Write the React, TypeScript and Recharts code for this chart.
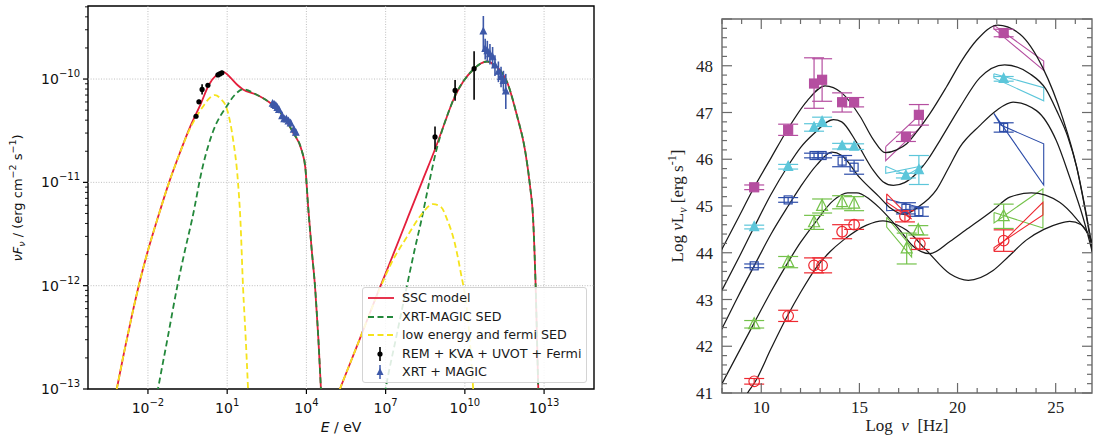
import React from 'react';
import {
  ComposedChart,
  Line,
  Scatter,
  XAxis,
  YAxis,
  ErrorBar,
  ReferenceLine,
  ReferenceArea,
} from 'recharts';

type P = { x: number; y: number; ey?: number[]; ex?: number };

// ---------- left panel: log10(E / eV) vs log10(nuF_nu) ----------
const sscSync = [
  [-3.6, -13.55], [-3.18, -13.0], [-2.9, -12.64], [-2.6, -12.28], [-2.3, -11.95], [-2.0, -11.66],
  [-1.6, -11.32], [-1.2, -11.0], [-0.8, -10.72], [-0.4, -10.46], [0.0, -10.24], [0.3, -10.06],
  [0.6, -9.96], [0.85, -9.93], [1.1, -9.98], [1.4, -10.06], [1.6, -10.1], [2.1, -10.15],
  [2.62, -10.23], [3.1, -10.35], [3.5, -10.52], [3.82, -10.69], [3.96, -10.86], [4.07, -11.25],
  [4.2, -11.65], [4.33, -12.02], [4.45, -12.5], [4.55, -13.0], [4.65, -13.5],
];
const sscIC = [
  [5.0, -13.18], [5.27, -13.0], [6.0, -12.53], [6.7, -12.07], [7.3, -11.69], [7.81, -11.36],
  [8.4, -10.98], [8.87, -10.68], [9.2, -10.45], [9.55, -10.21], [9.95, -10.02], [10.31, -9.91],
  [10.6, -9.85], [10.84, -9.83], [11.1, -9.86], [11.35, -9.92], [11.6, -10.03], [11.98, -10.36],
  [12.28, -10.69], [12.47, -11.04], [12.58, -11.33], [12.68, -12.0], [12.78, -13.0], [12.85, -13.6],
];
const xmSync = [
  [-1.9, -13.4], [-1.62, -13.0], [-1.25, -12.5], [-0.9, -12.02], [-0.6, -11.66], [-0.33, -11.36],
  [0.08, -10.84], [0.46, -10.51], [0.99, -10.26], [1.3, -10.15], [1.6, -10.1], [2.1, -10.15],
  [2.62, -10.23], [3.1, -10.35], [3.5, -10.52], [3.82, -10.69], [3.96, -10.86], [4.07, -11.25],
  [4.2, -11.65], [4.33, -12.02], [4.45, -12.5], [4.55, -13.0], [4.65, -13.5],
];
const xmIC = [
  [6.7, -13.5], [7.0, -13.0], [7.4, -12.5], [7.8, -12.01], [8.1, -11.65], [8.36, -11.36],
  [8.65, -11.0], [8.93, -10.68], [9.2, -10.45], [9.44, -10.28], [9.63, -10.16], [9.95, -10.02],
  [10.31, -9.91], [10.6, -9.85], [10.84, -9.83], [11.1, -9.86], [11.35, -9.92], [11.6, -10.03],
  [11.98, -10.36], [12.28, -10.69], [12.47, -11.04], [12.58, -11.33], [12.68, -12.0], [12.78, -13.0],
  [12.85, -13.6],
];
const lowSync = [
  [-3.6, -13.55], [-3.18, -13.0], [-2.9, -12.64], [-2.6, -12.28], [-2.3, -11.95], [-2.0, -11.66],
  [-1.6, -11.32], [-1.2, -11.0], [-0.8, -10.72], [-0.5, -10.53], [-0.2, -10.38], [0.1, -10.26],
  [0.35, -10.18], [0.54, -10.155], [0.75, -10.19], [0.99, -10.29], [1.22, -10.58], [1.41, -11.0],
  [1.5, -11.36], [1.6, -12.01], [1.7, -12.5], [1.79, -13.0], [1.87, -13.5],
];
const lowIC = [
  [5.0, -13.18], [5.27, -13.0], [6.0, -12.53], [6.7, -12.08], [7.2, -11.79], [7.8, -11.53],
  [8.3, -11.33], [8.8, -11.21], [9.1, -11.24], [9.33, -11.36], [9.6, -11.57], [9.82, -11.84],
  [10.12, -12.33], [10.31, -12.98], [10.4, -13.4],
];
// [x, y, err-, err+]
const remPts = [
  [-0.18, -10.36, 0.02, 0.02], [-0.07, -10.22, 0.02, 0.02], [0.05, -10.1, 0.05, 0.05],
  [0.27, -10.06, 0.02, 0.02], [0.65, -9.96, 0.02, 0.02], [0.72, -9.95, 0.02, 0.02],
  [0.8, -9.94, 0.02, 0.02], [8.87, -10.56, 0.12, 0.1], [9.63, -10.11, 0.1, 0.1],
  [10.35, -9.9, 0.3, 0.17],
];
const xrtPts = [
  [2.72, -10.24, 0.03, 0.03], [2.78, -10.25, 0.03, 0.03], [2.84, -10.26, 0.03, 0.03],
  [2.9, -10.28, 0.03, 0.03], [2.96, -10.3, 0.03, 0.03], [3.08, -10.36, 0.03, 0.03],
  [3.16, -10.39, 0.03, 0.03], [3.24, -10.39, 0.03, 0.03], [3.32, -10.41, 0.03, 0.03],
  [3.4, -10.43, 0.03, 0.03], [3.52, -10.49, 0.03, 0.03], [3.6, -10.52, 0.03, 0.03],
];
const magicPts = [
  [10.7, -9.54, 0.19, 0.15], [10.77, -9.71, 0.1, 0.1], [10.85, -9.73, 0.1, 0.1],
  [10.95, -9.76, 0.1, 0.1], [11.05, -9.79, 0.1, 0.1], [11.14, -9.87, 0.1, 0.1],
  [11.27, -9.93, 0.1, 0.1], [11.37, -9.98, 0.1, 0.1], [11.46, -10.02, 0.1, 0.1],
  [11.55, -10.12, 0.17, 0.17],
];
const lXMajor = [-2, 1, 4, 7, 10, 13];
const lYMajor = [-13, -12, -11, -10];

// ---------- right panel: Log nu vs Log nuL_nu ----------
const curveA = [
  [7.9, 44.0], [8.0, 44.08], [8.76, 44.69], [9.64, 45.4], [10.5, 46.03], [11.3, 46.61],
  [12.34, 47.25], [13.25, 47.57], [14.1, 47.42], [15.03, 46.92], [15.71, 46.42], [16.32, 46.14],
  [16.9, 46.2], [17.41, 46.33], [18.0, 46.63], [18.6, 46.98], [19.44, 47.55], [20.2, 48.1],
  [20.98, 48.55], [22.05, 48.87], [23.17, 48.68], [24.34, 47.96], [25.35, 46.89], [26.07, 45.83],
  [26.57, 44.76], [27.0, 43.7],
];
const curveB = [
  [7.9, 43.12], [8.0, 43.2], [8.9, 43.93], [9.64, 44.55], [10.5, 45.25], [11.35, 45.85],
  [12.0, 46.25], [12.66, 46.54], [13.68, 46.85], [14.1, 46.8], [14.87, 46.35], [15.71, 45.76],
  [16.2, 45.52], [16.73, 45.44], [17.3, 45.5], [17.92, 45.7], [18.5, 46.0], [19.1, 46.4],
  [20.12, 47.11], [21.13, 47.74], [22.4, 48.02], [23.68, 47.83], [24.5, 47.5], [25.05, 47.04],
  [25.6, 46.5], [26.07, 45.83], [26.57, 44.8], [27.0, 43.8],
];
const curveC = [
  [7.9, 42.3], [8.0, 42.38], [8.8, 43.05], [9.64, 43.72], [10.5, 44.4], [11.37, 45.0],
  [11.98, 45.4], [12.83, 45.88], [13.6, 46.15], [14.1, 46.08], [15.03, 45.6], [16.0, 45.2],
  [16.6, 44.95], [17.25, 44.82], [18.0, 44.98], [18.93, 45.35], [19.5, 45.78], [20.12, 46.26],
  [21.13, 46.72], [22.0, 47.05], [22.83, 47.22], [24.02, 47.04], [25.03, 46.4], [25.71, 45.62],
  [26.39, 44.76], [27.0, 43.8],
];
const curveD = [
  [7.9, 41.12], [8.0, 41.2], [9.64, 42.5], [10.5, 43.17], [11.37, 43.8], [12.0, 44.22],
  [12.7, 44.62], [13.68, 45.12], [14.4, 45.28], [14.87, 45.28], [15.5, 45.15], [16.05, 44.95],
  [17.07, 44.48], [17.74, 44.14], [18.59, 43.98], [19.61, 44.24], [20.4, 44.48], [21.81, 44.91],
  [22.66, 45.19], [23.76, 45.28], [25.2, 45.08], [26.05, 44.73], [26.73, 44.34], [27.0, 44.1],
];
const curveE = [
  [9.0, 40.78], [9.3, 41.0], [9.69, 41.24], [10.5, 41.95], [11.31, 42.63], [12.0, 43.15],
  [12.83, 43.7], [13.5, 44.02], [14.18, 44.27], [15.37, 44.59], [16.2, 44.68], [16.9, 44.6],
  [17.41, 44.48], [18.42, 44.05], [19.61, 43.55], [20.55, 43.41], [21.81, 43.62], [22.6, 43.92],
  [23.5, 44.27], [24.4, 44.5], [25.2, 44.63], [25.71, 44.67], [26.3, 44.6], [26.85, 44.2],
  [27.0, 44.0],
];
const magPts = [
  [9.64, 45.4, 0.05, 0.05], [11.37, 46.63, 0.12, 0.12], [12.69, 47.62, 0.53, 0.55],
  [13.1, 47.7, 0.46, 0.45], [14.12, 47.22, 0.21, 0.2], [14.73, 47.22, 0.1, 0.1],
  [17.37, 46.48, 0.1, 0.1], [18.03, 46.95, 0.22, 0.22], [22.35, 48.7, 0.08, 0.08],
];
const cyaPts = [
  [9.64, 44.55, 0.04, 0.04], [11.37, 45.84, 0.05, 0.05], [12.69, 46.68, 0.08, 0.08],
  [13.1, 46.8, 0.1, 0.1], [14.12, 46.28, 0.06, 0.06], [14.73, 46.27, 0.06, 0.06],
  [17.37, 45.65, 0.05, 0.05], [18.03, 45.77, 0.31, 0.31], [22.35, 47.72, 0.05, 0.05],
];
const bluPts = [
  [9.64, 43.72, 0.04, 0.04], [11.37, 45.13, 0.05, 0.05], [12.69, 46.08, 0.05, 0.05],
  [13.1, 46.08, 0.05, 0.05], [14.12, 45.96, 0.12, 0.12], [14.73, 45.83, 0.15, 0.15],
  [17.37, 44.95, 0.12, 0.12], [18.03, 44.88, 0.1, 0.1], [22.35, 46.68, 0.1, 0.1],
];
const grnPts = [
  [9.64, 42.47, 0.08, 0.08], [11.37, 43.8, 0.12, 0.12], [12.69, 44.65, 0.15, 0.15],
  [13.1, 45.0, 0.15, 0.15], [14.12, 45.08, 0.14, 0.14], [14.73, 45.05, 0.15, 0.15],
  [17.41, 44.09, 0.33, 0.33], [18.0, 44.48, 0.1, 0.1], [22.35, 44.78, 0.26, 0.26],
];
const redPts = [
  [9.64, 41.25, 0.06, 0.06], [11.37, 42.65, 0.12, 0.12], [12.69, 43.73, 0.16, 0.16],
  [13.1, 43.73, 0.16, 0.16], [14.12, 44.45, 0.15, 0.15], [14.73, 44.6, 0.1, 0.1],
  [17.32, 44.78, 0.12, 0.12], [18.08, 44.19, 0.12, 0.12], [22.35, 44.26, 0.23, 0.23],
];
// butterfly outlines (X-ray, gamma-ray)
const magBowX = [[16.34, 46.27], [18.2, 47.0], [18.2, 46.72], [16.34, 45.97], [16.34, 46.27]];
const cyaBowX = [[16.34, 45.85], [17.4, 45.66], [18.25, 45.86], [16.34, 45.7], [16.34, 45.85]];
const bluBowX = [[16.39, 45.15], [18.25, 44.95], [16.39, 44.9], [16.39, 45.15]];
const redBowX = [[16.39, 45.26], [17.66, 44.72], [16.39, 45.08], [16.39, 45.26]];
const grnBowX = [[16.39, 44.76], [17.66, 44.12], [17.66, 43.91], [16.39, 44.55], [16.39, 44.76]];
const magBowG = [[21.85, 48.87], [24.39, 48.1], [24.39, 47.9], [21.85, 48.79], [21.85, 48.87]];
const cyaBowG = [[21.85, 47.83], [24.39, 47.53], [24.39, 47.25], [21.85, 47.74], [21.85, 47.83]];
const bluBowG = [[21.85, 46.98], [24.39, 45.45], [24.39, 46.33], [22.2, 46.73], [21.85, 46.98]];
const grnBowG = [[21.86, 44.86], [24.35, 44.53], [24.35, 45.37], [21.86, 44.64], [21.86, 44.86]];
const redBowG = [[21.86, 44.04], [24.35, 45.08], [24.35, 44.81], [21.86, 44.11], [21.86, 44.04]];
const rXLabels = [10, 15, 20, 25];
const rYLabels = [41, 42, 43, 44, 45, 46, 47, 48];

// ---------- helpers ----------
const toPts = (rows: number[][]): P[] => rows.map(([x, y]) => ({ x, y }));
const toErr = (rows: number[][]): P[] => rows.map(([x, y, lo, hi]) => ({ x, y, ey: [lo, hi], ex: 0.03 }));

const RED = '#e41f3c';
const GREEN = '#23883b';
const YELLOW = '#f5e31c';
const BLUE = '#3d58a8';
const MAG = '#b54ea0';
const CYA = '#5cc6da';
const RBLU = '#2c4ca8';
const RGRN = '#74c24a';
const RRED = '#ee2830';

const SANS = 'DejaVu Sans, sans-serif';
const SERIF = 'Liberation Serif, Times New Roman, serif';

const L = { left: 88, right: 594, top: 6, bottom: 389 };
const L_XDOM: [number, number] = [-4.27, 14.89];
const L_YDOM: [number, number] = [-13, -9.293];
const R = { left: 82, right: 452, top: 19, bottom: 393 };
const R_XDOM: [number, number] = [8, 26.85];
const R_YDOM: [number, number] = [41, 49];

const expText = (v: number) => (v < 0 ? '\u2212' + Math.abs(v) : String(v));

const lYTicks: number[] = [];
for (let n = -13; n <= -10; n++) {
  for (let k = 1; k <= 9; k++) {
    const v = n + Math.log10(k);
    if (v <= L_YDOM[1]) lYTicks.push(v);
  }
}
const rXTicks: number[] = [];
for (let v = 8; v <= 26; v++) rXTicks.push(v);
const rYTicks: number[] = [];
for (let i = 0; i <= 40; i++) rYTicks.push(Math.round((41 + i * 0.2) * 10) / 10);

const LeftXTick = ({ x, payload }: any) => (
  <g>
    <line x1={x} x2={x} y1={L.bottom} y2={L.bottom + 5} stroke="#000" strokeWidth={1.2} />
    <text x={x} y={L.bottom + 24} textAnchor="middle" fontSize={14} fontFamily={SANS} fill="#111">
      10<tspan dy={-7} fontSize={10}>{expText(payload.value)}</tspan>
    </text>
  </g>
);

const LeftYTick = ({ y, payload }: any) => {
  const v = payload.value;
  const major = Math.abs(v - Math.round(v)) < 1e-6;
  return (
    <g>
      <line x1={L.left - (major ? 5 : 3)} x2={L.left} y1={y} y2={y} stroke="#000" strokeWidth={major ? 1.2 : 0.9} />
      {major && (
        <text x={L.left - 8} y={y + 5} textAnchor="end" fontSize={14} fontFamily={SANS} fill="#111">
          10<tspan dy={-7} fontSize={10}>{expText(Math.round(v))}</tspan>
        </text>
      )}
    </g>
  );
};

const RightXTick = ({ x, payload }: any) => {
  const v = payload.value;
  const major = v % 5 === 0;
  const len = major ? 10 : 5;
  return (
    <g>
      <line x1={x} x2={x} y1={R.bottom} y2={R.bottom - len} stroke="#6a6a6a" strokeWidth={1.2} />
      <line x1={x} x2={x} y1={R.top} y2={R.top + len} stroke="#6a6a6a" strokeWidth={1.2} />
      {rXLabels.includes(v) && (
        <text x={x} y={R.bottom + 20} textAnchor="middle" fontSize={17} fontFamily={SERIF} fill="#222">
          {v}
        </text>
      )}
    </g>
  );
};

const RightYTick = ({ y, payload }: any) => {
  const v = payload.value;
  const major = Math.abs(v - Math.round(v)) < 1e-6;
  const len = major ? 10 : 5;
  return (
    <g>
      <line x1={R.left} x2={R.left + len} y1={y} y2={y} stroke="#6a6a6a" strokeWidth={1.2} />
      <line x1={R.right} x2={R.right - len} y1={y} y2={y} stroke="#6a6a6a" strokeWidth={1.2} />
      {major && rYLabels.includes(Math.round(v)) && (
        <text x={R.left - 9} y={y + 6} textAnchor="end" fontSize={17} fontFamily={SERIF} fill="#222">
          {Math.round(v)}
        </text>
      )}
    </g>
  );
};

// marker shapes
const dotShape = (p: any) => <circle cx={p.cx} cy={p.cy} r={2.6} fill="#000" />;
const triShape = (color: string, filled: boolean, s: number) => (p: any) => (
  <path
    d={`M${p.cx},${p.cy - s * 0.6}L${p.cx + s / 2},${p.cy + s * 0.4}L${p.cx - s / 2},${p.cy + s * 0.4}Z`}
    fill={filled ? color : 'none'}
    stroke={color}
    strokeWidth={1.2}
  />
);
const sqShape = (color: string, filled: boolean, s: number) => (p: any) => (
  <rect x={p.cx - s / 2} y={p.cy - s / 2} width={s} height={s} fill={filled ? color : 'none'} stroke={color} strokeWidth={1.2} />
);
const circShape = (color: string) => (p: any) => (
  <circle cx={p.cx} cy={p.cy} r={5.3} fill="none" stroke={color} strokeWidth={1.2} />
);

const curve = (rows: number[][], color: string, dash?: string, width = 1.8, key?: string) => (
  <Line
    key={key}
    data={toPts(rows)}
    dataKey="y"
    type="monotone"
    stroke={color}
    strokeWidth={width}
    strokeDasharray={dash}
    dot={false}
    activeDot={false}
    isAnimationActive={false}
  />
);

const outline = (rows: number[][], color: string, key: string) => (
  <Line
    key={key}
    data={toPts(rows)}
    dataKey="y"
    type="linear"
    stroke={color}
    strokeWidth={1.1}
    dot={false}
    activeDot={false}
    isAnimationActive={false}
  />
);

function SedPanel() {
  return (
    <ComposedChart width={600} height={439} margin={{ top: 6, right: 6, bottom: 20, left: 0 }}>
      <XAxis
        type="number"
        dataKey="x"
        domain={L_XDOM}
        allowDataOverflow
        ticks={lXMajor}
        interval={0}
        tick={(p: any) => <LeftXTick {...p} />}
        tickLine={false}
        axisLine={false}
        height={30}
      />
      <YAxis
        type="number"
        dataKey="y"
        domain={L_YDOM}
        allowDataOverflow
        ticks={lYTicks}
        interval={0}
        tick={(p: any) => <LeftYTick {...p} />}
        tickLine={false}
        axisLine={false}
        width={88}
      />
      {lXMajor.map((v) => (
        <ReferenceLine key={'gx' + v} x={v} stroke="#b8b8b8" strokeDasharray="1 1.6" strokeWidth={0.9} />
      ))}
      {lYMajor.slice(1).map((v) => (
        <ReferenceLine key={'gy' + v} y={v} stroke="#b8b8b8" strokeDasharray="1 1.6" strokeWidth={0.9} />
      ))}
      {curve(sscSync, RED, undefined, 1.8, 'r1')}
      {curve(sscIC, RED, undefined, 1.8, 'r2')}
      {curve(xmSync, GREEN, '6 3.5', 1.8, 'g1')}
      {curve(xmIC, GREEN, '6 3.5', 1.8, 'g2')}
      {curve(lowSync, YELLOW, '6 3.5', 1.8, 'y1')}
      {curve(lowIC, YELLOW, '6 3.5', 1.8, 'y2')}
      <Scatter data={toErr(remPts)} shape={dotShape} isAnimationActive={false}>
        <ErrorBar dataKey="ey" direction="y" width={0} stroke="#000" strokeWidth={1.6} />
      </Scatter>
      <Scatter data={toErr(xrtPts)} shape={triShape(BLUE, true, 6)} isAnimationActive={false}>
        <ErrorBar dataKey="ey" direction="y" width={0} stroke={BLUE} strokeWidth={1.5} />
        <ErrorBar dataKey="ex" direction="x" width={0} stroke={BLUE} strokeWidth={1.5} />
      </Scatter>
      <Scatter data={toErr(magicPts)} shape={triShape(BLUE, true, 6)} isAnimationActive={false}>
        <ErrorBar dataKey="ey" direction="y" width={0} stroke={BLUE} strokeWidth={1.6} />
      </Scatter>
      <ReferenceArea x1={L_XDOM[0]} x2={L_XDOM[1]} y1={L_YDOM[0]} y2={L_YDOM[1]} fill="none" stroke="#000" strokeWidth={1.4} />
    </ComposedChart>
  );
}

function LumPanel() {
  const series: [number[][], (p: any) => React.ReactElement, string][] = [
    [magPts, sqShape(MAG, true, 9), MAG],
    [cyaPts, triShape(CYA, true, 9), CYA],
    [bluPts, sqShape(RBLU, false, 8), RBLU],
    [grnPts, triShape(RGRN, false, 11), RGRN],
    [redPts, circShape(RRED), RRED],
  ];
  return (
    <ComposedChart width={453} height={439} margin={{ top: 19, right: 1, bottom: 16, left: 0 }}>
      <XAxis
        type="number"
        dataKey="x"
        domain={R_XDOM}
        allowDataOverflow
        ticks={rXTicks}
        interval={0}
        tick={(p: any) => <RightXTick {...p} />}
        tickLine={false}
        axisLine={false}
        height={30}
      />
      <YAxis
        type="number"
        dataKey="y"
        domain={R_YDOM}
        allowDataOverflow
        ticks={rYTicks}
        interval={0}
        tick={(p: any) => <RightYTick {...p} />}
        tickLine={false}
        axisLine={false}
        width={82}
      />
      {outline(magBowX, MAG, 'b1')}
      {outline(cyaBowX, CYA, 'b2')}
      {outline(bluBowX, RBLU, 'b3')}
      {outline(redBowX, RRED, 'b4')}
      {outline(grnBowX, RGRN, 'b5')}
      {outline(magBowG, MAG, 'b6')}
      {outline(cyaBowG, CYA, 'b7')}
      {outline(bluBowG, RBLU, 'b8')}
      {outline(grnBowG, RGRN, 'b9')}
      {outline(redBowG, RRED, 'b10')}
      {[curveA, curveB, curveC, curveD, curveE].map((c, i) => curve(c, '#1a1a1a', undefined, 1.25, 'c' + i))}
      {series.map(([rows, shape, color], i) => (
        <Scatter key={'s' + i} data={toErr(rows)} shape={shape} isAnimationActive={false}>
          <ErrorBar dataKey="ey" direction="y" width={10} stroke={color} strokeWidth={1.2} />
        </Scatter>
      ))}
      <ReferenceArea x1={R_XDOM[0]} x2={R_XDOM[1]} y1={R_YDOM[0]} y2={R_YDOM[1]} fill="none" stroke="#6a6a6a" strokeWidth={1.4} />
    </ComposedChart>
  );
}

const legendRows = [
  { label: 'SSC model', kind: 'line', color: RED },
  { label: 'XRT-MAGIC SED', kind: 'dash', color: GREEN },
  { label: 'low energy and fermi SED', kind: 'dash', color: YELLOW },
  { label: 'REM + KVA + UVOT + Fermi', kind: 'err', color: '#000' },
  { label: 'XRT + MAGIC', kind: 'tri', color: BLUE },
];

function SedLegend() {
  return (
    <div
      style={{
        position: 'absolute',
        left: 362,
        top: 287,
        width: 225,
        height: 96,
        border: '1px solid #d4d4d4',
        borderRadius: 3,
        background: 'rgba(255,255,255,0.85)',
        boxSizing: 'border-box',
      }}
    >
      {legendRows.map((r, i) => (
        <div key={r.label} style={{ position: 'absolute', left: 0, top: 1 + i * 18.5, height: 18, width: 225 }}>
          <svg width={36} height={18} style={{ position: 'absolute', left: 0, top: 0 }}>
            {r.kind === 'line' && <line x1={5} x2={31} y1={9} y2={9} stroke={r.color} strokeWidth={1.8} />}
            {r.kind === 'dash' && <line x1={5} x2={31} y1={9} y2={9} stroke={r.color} strokeWidth={1.8} strokeDasharray="6 3.5" />}
            {r.kind === 'err' && (
              <g>
                <line x1={17} x2={17} y1={2} y2={16} stroke="#000" strokeWidth={1.6} />
                <circle cx={17} cy={9} r={2.6} fill="#000" />
              </g>
            )}
            {r.kind === 'tri' && (
              <g>
                <line x1={17} x2={17} y1={2} y2={16} stroke={BLUE} strokeWidth={1.5} />
                <path d="M17,5L20.5,12L13.5,12Z" fill={BLUE} />
              </g>
            )}
          </svg>
          <span
            style={{
              position: 'absolute',
              left: 39,
              top: 1,
              fontFamily: SANS,
              fontSize: 12.7,
              lineHeight: '16px',
              color: '#1a1a1a',
              whiteSpace: 'nowrap',
            }}
          >
            {r.label}
          </span>
        </div>
      ))}
    </div>
  );
}

export default function App() {
  return (
    <div style={{ position: 'absolute', left: 0, top: 0, width: 1093, height: 439, background: '#fff', overflow: 'hidden' }}>
      <div style={{ position: 'absolute', left: 0, top: 0 }}>
        <SedPanel />
      </div>
      <SedLegend />
      <div style={{ position: 'absolute', left: 640, top: 0 }}>
        <LumPanel />
      </div>
      <svg width={1093} height={439} style={{ position: 'absolute', left: 0, top: 0, pointerEvents: 'none' }}>
        <text transform="translate(22,198) rotate(-90)" textAnchor="middle" fontSize={13} fontFamily={SANS} fill="#111">
          <tspan fontStyle="italic">νF</tspan>
          <tspan dy={3} fontSize={9.5} fontStyle="italic">ν</tspan>
          <tspan dy={-3}> / (erg cm</tspan>
          <tspan dy={-6} fontSize={9.5}>−2</tspan>
          <tspan dy={6}> s</tspan>
          <tspan dy={-6} fontSize={9.5}>−1</tspan>
          <tspan dy={6}>)</tspan>
        </text>
        <text x={341} y={432} textAnchor="middle" fontSize={14} fontFamily={SANS} fill="#111">
          <tspan fontStyle="italic">E</tspan> / eV
        </text>
        <text transform="translate(683,206) rotate(-90)" textAnchor="middle" fontSize={17} fontFamily={SERIF} fill="#222">
          Log  <tspan fontStyle="italic">ν</tspan>L<tspan dy={4} fontSize={12} fontStyle="italic">ν</tspan>
          <tspan dy={-4}>  [erg s</tspan>
          <tspan dy={-7} fontSize={12}>-1</tspan>
          <tspan dy={7}>]</tspan>
        </text>
        <text x={907} y={431} textAnchor="middle" fontSize={17} fontFamily={SERIF} fill="#222" xmlSpace="preserve">
          Log  <tspan fontStyle="italic">ν</tspan>  [Hz]
        </text>
      </svg>
    </div>
  );
}
